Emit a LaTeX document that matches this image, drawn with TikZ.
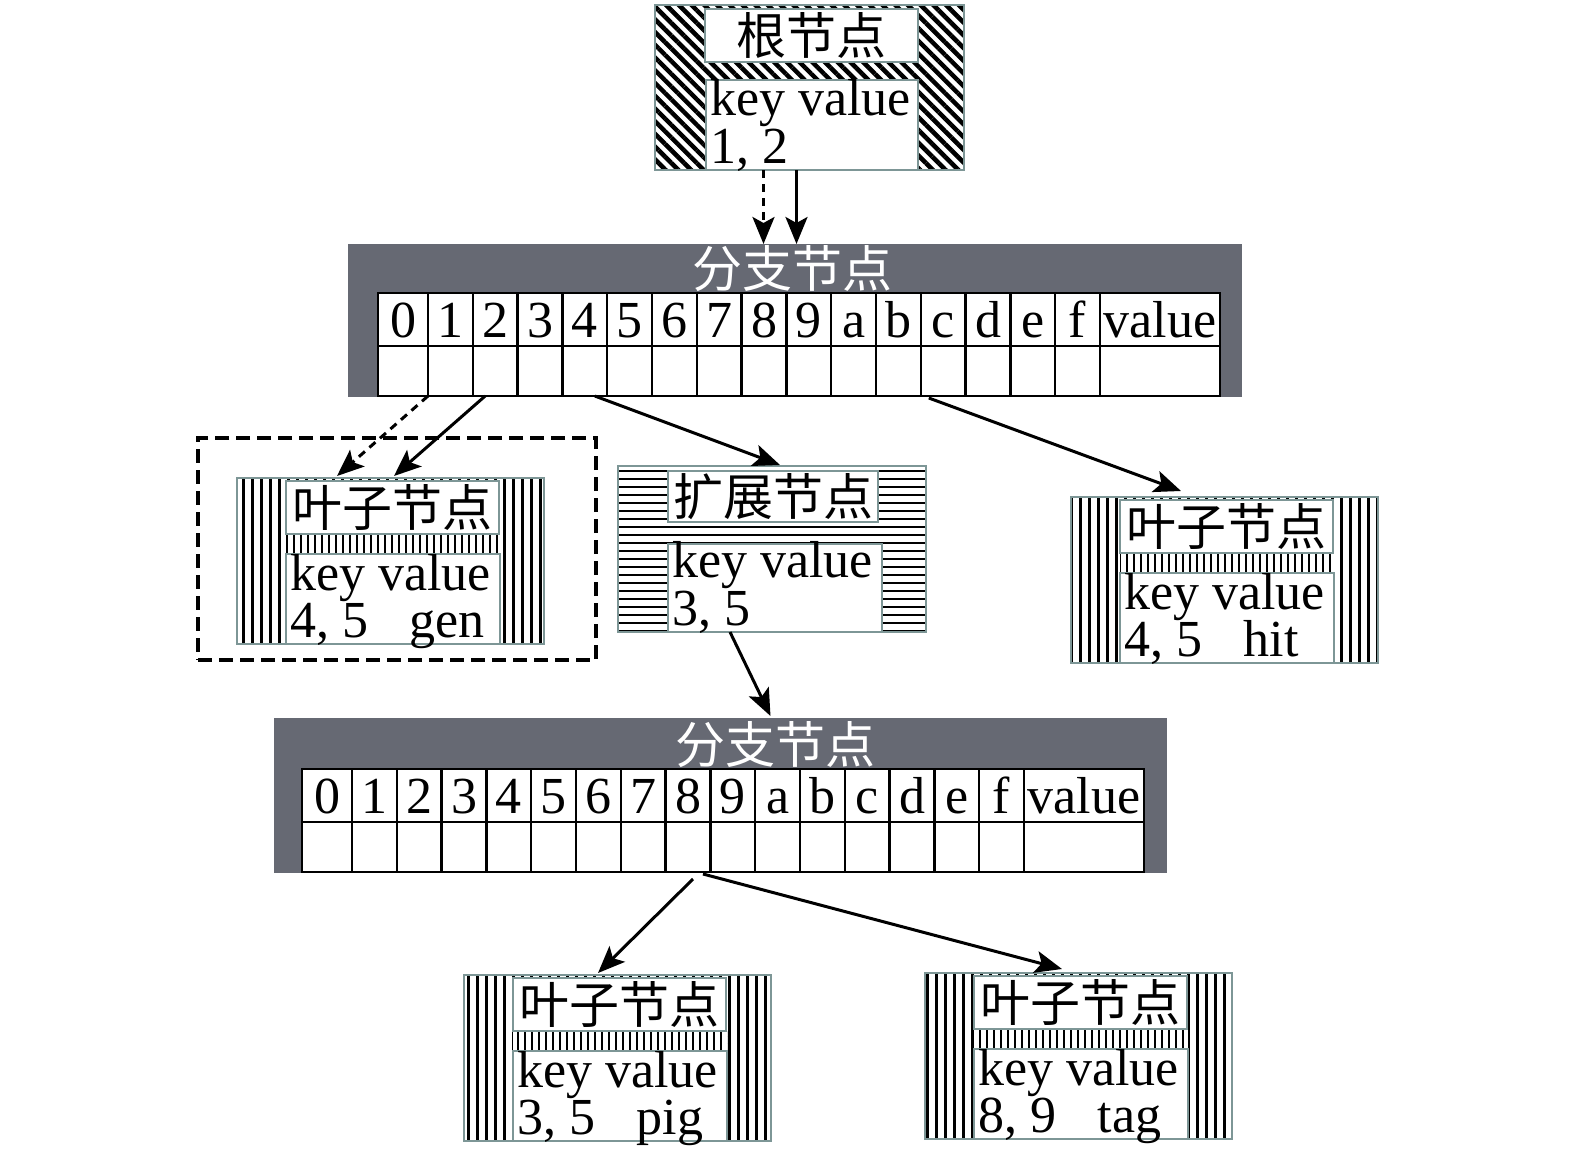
\documentclass[tikz,border=0pt]{standalone}
\usepackage{fontspec}
\setmainfont{Liberation Serif}
\newfontfamily\cjk{Noto Sans CJK SC}
\usetikzlibrary{patterns.meta,calc,arrows.meta}
\definecolor{brgrey}{RGB}{102,105,115}
\definecolor{bordc}{RGB}{125,150,150}
\tikzset{
  lat/.style={font=\fontsize{52}{52}\selectfont, inner sep=0pt, outer sep=0pt},
  cjkt/.style={font=\cjk\fontsize{50}{50}\selectfont},
  pbox/.style={draw=bordc, line width=2pt, inner sep=0pt, outer sep=0pt, anchor=north west},
  inbox/.style={pbox, fill=white},
  branch/.style={fill=brgrey, inner sep=0pt, outer sep=0pt, anchor=north west},
  cellt/.style={draw=black, line width=2.5pt, fill=white, inner sep=0pt, outer sep=0pt, anchor=north west,
     minimum width=44.8pt, minimum height=53pt, font=\fontsize{52}{52}\selectfont, text height=36pt, text depth=0pt},
  cellb/.style={cellt, minimum height=50pt},
  arr/.style={line width=3pt, -{Stealth[length=27pt,width=22pt,inset=6pt]}},
  darr/.style={arr, dash pattern=on 8pt off 6pt},
  grp/.style={draw=black, line width=4pt, dash pattern=on 14pt off 7pt, inner sep=0pt, outer sep=0pt, anchor=north west}
}
\newcommand\brtable[3]{%
  \node[cellt, minimum width=50pt] (#1t0) at (#2,#3) {0};
  \node[cellb, minimum width=50pt] (#1b0) at (#2,#3+53) {};
  \foreach \i/\lab in {1/1,2/2,3/3,4/4,5/5,6/6,7/7,8/8,9/9,10/a,11/b,12/c,13/d,14/e,15/f}{%
    \node[cellt] (#1t\i) at ({#2+50+(\i-1)*44.8},#3) {\lab};
    \node[cellb] (#1b\i) at ({#2+50+(\i-1)*44.8},#3+53) {};
  }
  \node[cellt, minimum width=120pt] (#1t16) at (#2+722,#3) {value};
  \node[cellb, minimum width=120pt] (#1b16) at (#2+722,#3+53) {};
}
\newcommand\leafnode[4]{%
  \node[pbox, minimum width=307pt, minimum height=166pt, preaction={fill=white},
        pattern={Lines[angle=90,distance=9pt,line width=3pt]}] (#1) at (#2,#3) {};
  \node[anchor=north west, inner sep=0pt, outer sep=0pt, minimum width=214pt, minimum height=20pt,
        preaction={fill=white}, pattern={Lines[angle=90,distance=7pt,line width=2.8pt]}] (#1m) at ($(#1.north west)+(49,56)$) {};
  \node[inbox, cjkt, minimum width=213pt, minimum height=53pt] (#1t) at ($(#1.north west)+(49,3)$) {叶子节点};
  \node[inbox, minimum width=214pt, minimum height=90pt] (#1k) at ($(#1.north west)+(49,76)$) {};
  \node[lat, anchor=base west] (#1k1) at ($(#1k.north west)+(4,36)$) {key value};
  \node[lat, anchor=base west] (#1k2) at ($(#1k.north west)+(4,83)$) {#4};
}
\begin{document}
\begin{tikzpicture}[x=1pt,y=-1pt]
\useasboundingbox (0,0) rectangle (1575,1159);

% root node
\node[pbox, minimum width=309pt, minimum height=165pt, preaction={fill=white},
      pattern={Lines[angle=-45,distance=9pt,line width=4.5pt]}] (root) at (655,5) {};
\node[inbox, cjkt, minimum width=213pt, minimum height=53pt] (roott) at ($(root.north west)+(50,4)$) {根节点};
\node[inbox, minimum width=212pt, minimum height=90pt] (rootk) at ($(root.north west)+(51,75)$) {};
\node[lat, anchor=base west] (rootk1) at ($(rootk.north west)+(4,35)$) {key value};
\node[lat, anchor=base west] (rootk2) at ($(rootk.north west)+(4,83)$) {1, 2};

% branch node 1
\node[branch, minimum width=894pt, minimum height=153pt] (b1) at (348,244) {};
\node[cjkt, text=white, inner sep=0pt] (b1title) at (792,269) {分支节点};
\brtable{b1}{378}{293}

% dashed group + leaf A
\node[grp, minimum width=398pt, minimum height=222pt] (grp) at (198,438) {};
\leafnode{leafA}{237}{478}{4, 5\hspace{0.8em}gen}

% extension node
\node[pbox, minimum width=308pt, minimum height=166pt, preaction={fill=white},
      pattern={Lines[angle=0,distance=8pt,line width=2.5pt]}] (ext) at (618,466) {};
\node[inbox, cjkt, minimum width=210pt, minimum height=51pt] (extt) at ($(ext.north west)+(50,5)$) {扩展节点};
\node[inbox, minimum width=214pt, minimum height=88pt] (extk) at ($(ext.north west)+(50,78)$) {};
\node[lat, anchor=base west] (extk1) at ($(extk.north west)+(4,33)$) {key value};
\node[lat, anchor=base west] (extk2) at ($(extk.north west)+(4,81)$) {3, 5};

% leaf B
\leafnode{leafB}{1071}{497}{4, 5\hspace{0.8em}hit}

% branch node 2
\node[branch, minimum width=893pt, minimum height=155pt] (b2) at (274,718) {};
\node[cjkt, text=white, inner sep=0pt] (b2title) at (775,745) {分支节点};
\brtable{b2}{302}{769}

% leaves C, D
\leafnode{leafC}{464}{975}{3, 5\hspace{0.8em}pig}
\leafnode{leafD}{925}{973}{8, 9\hspace{0.8em}tag}

% connectors
\coordinate (rd) at ($(root.south)+(-46,0)$);
\coordinate (rs) at ($(root.south)+(-13,0)$);
\draw[darr] (rd) -- (rd |- b1.north);
\draw[arr] (rs) -- (rs |- b1.north);
\draw[darr] (b1b1.south west) -- ($(leafA.north west)+(100,-2)$);
\draw[arr] ($(b1b2.south)+(-10,0)$) -- ($(leafA.north west)+(157,-2)$);
\draw[arr] ($(b1b4.south)+(10,0)$) -- ($(ext.north west)+(162,-1)$);
\draw[arr] ($(b1b12.south west)+(8,2)$) -- ($(leafB.north west)+(110,-6)$);
\draw[arr] ($(ext.south west)+(112,0)$) -- ($(b2.north)+(50,-2)$);
\draw[arr] ($(b2b8.south)+(5,7)$) -- ($(leafC.north west)+(134,-2)$);
\draw[arr] ($(b2b8.south)+(15,2)$) -- ($(leafD.north west)+(137,-4)$);
\end{tikzpicture}
\end{document}
